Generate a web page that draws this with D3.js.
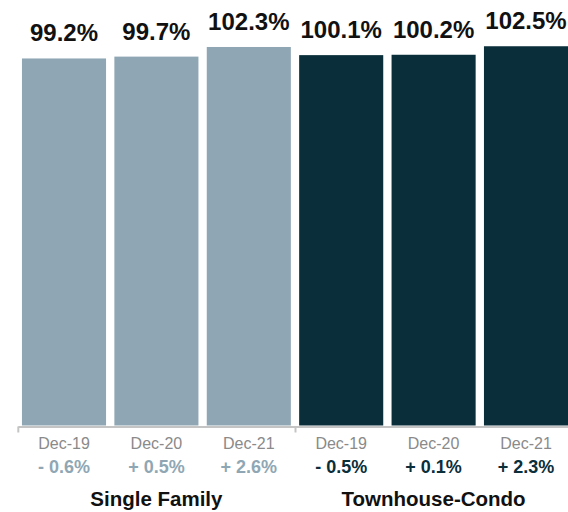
<!DOCTYPE html>
<html>
<head>
<meta charset="utf-8">
<script src="https://cdn.jsdelivr.net/npm/d3@7"></script>
<style>
html,body{margin:0;padding:0;background:#fff;}
svg{display:block;font-family:"Liberation Sans",Arial,Helvetica,sans-serif;}
</style>
</head>
<body>
<svg id="chart" width="568" height="512"></svg>
<script>
const groups = ["Single Family", "Townhouse-Condo"];
const periods = ["Dec-19", "Dec-20", "Dec-21"];
const singleFamily = [99.2, 99.7, 102.3];
const townhouseCondo = [100.1, 100.2, 102.5];
const singleFamilyChange = ["- 0.6%", "+ 0.5%", "+ 2.6%"];
const townhouseCondoChange = ["- 0.5%", "+ 0.1%", "+ 2.3%"];
const groupColors = ["#8fa7b4", "#0a2e3a"];

const data = [];
[singleFamily, townhouseCondo].forEach((vals, gi) => {
  vals.forEach((v, pi) => {
    data.push({
      key: gi + "-" + pi,
      group: gi,
      period: periods[pi],
      value: v,
      change: (gi === 0 ? singleFamilyChange : townhouseCondoChange)[pi]
    });
  });
});

const svg = d3.select("#chart");
const x0 = 17.8, x1 = 572.2, yBase = 425.5;

const x = d3.scaleBand().domain(data.map(d => d.key)).range([x0, x1]).paddingInner(0.09).paddingOuter(0.045);
const y = d3.scaleLinear().domain([0, 115]).range([yBase, 0]);
const gx = d3.scaleBand().domain(d3.range(groups.length)).range([x0, x1]);

// bars
svg.append("g").selectAll("rect").data(data).join("rect")
  .attr("x", d => x(d.key))
  .attr("width", x.bandwidth())
  .attr("y", d => y(d.value))
  .attr("height", d => y(0) - y(d.value))
  .attr("fill", d => groupColors[d.group]);

// value labels
svg.append("g").selectAll("text").data(data).join("text")
  .attr("x", d => x(d.key) + x.bandwidth() / 2)
  .attr("y", d => y(d.value) - 17)
  .attr("text-anchor", "middle")
  .attr("font-size", 24)
  .attr("font-weight", "bold")
  .attr("fill", "#111")
  .text(d => d.value.toFixed(1) + "%");

// axis line with group ticks
const axisG = svg.append("g").attr("transform", `translate(0,${yBase + 1})`);
const axis = d3.axisBottom(d3.scaleLinear().domain([0, groups.length]).range([x0, x1]))
  .tickValues(d3.range(groups.length + 1)).tickFormat("").tickSizeInner(6).tickSizeOuter(0);
axisG.call(axis);
axisG.selectAll("path,line").attr("stroke", "#c4c4c4").attr("stroke-width", 2);

// period labels
svg.append("g").selectAll("text").data(data).join("text")
  .attr("x", d => x(d.key) + x.bandwidth() / 2)
  .attr("y", 449)
  .attr("text-anchor", "middle")
  .attr("font-size", 16)
  .attr("fill", "#8a8a8a")
  .text(d => d.period);

// change labels
svg.append("g").selectAll("text").data(data).join("text")
  .attr("x", d => x(d.key) + x.bandwidth() / 2)
  .attr("y", 473)
  .attr("text-anchor", "middle")
  .attr("font-size", 18)
  .attr("font-weight", "bold")
  .attr("fill", d => groupColors[d.group])
  .text(d => d.change);

// group labels
svg.append("g").selectAll("text").data(groups).join("text")
  .attr("x", (d, i) => gx(i) + gx.bandwidth() / 2)
  .attr("y", 506)
  .attr("text-anchor", "middle")
  .attr("font-size", 20.5)
  .attr("font-weight", "bold")
  .attr("fill", "#111")
  .text(d => d);
</script>
</body>
</html>
